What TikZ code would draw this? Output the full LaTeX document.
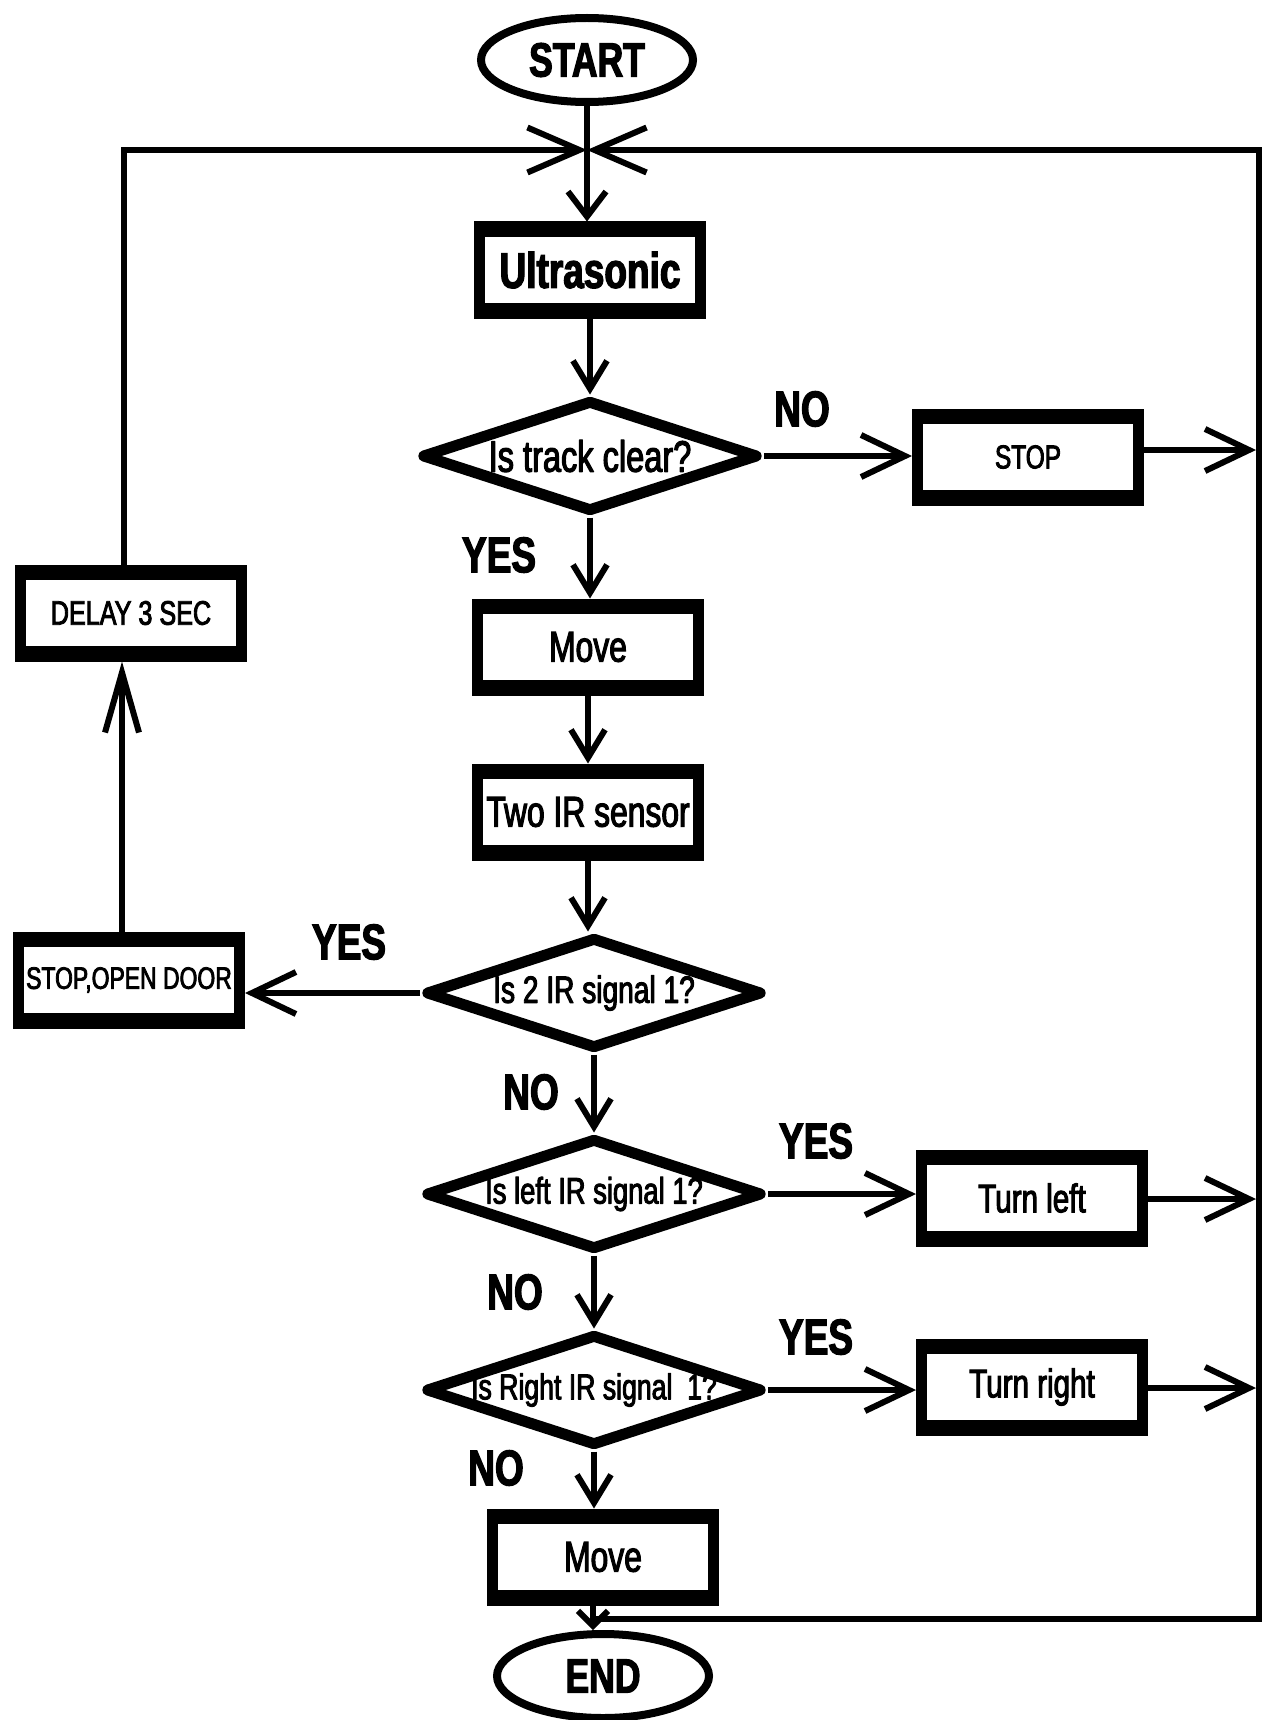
\documentclass[tikz,border=0pt]{standalone}
\usepackage{fontspec}
\setmainfont{Liberation Sans}[FakeStretch=0.74, FakeBold=2.5]
\usetikzlibrary{shapes.geometric,arrows.meta}
\begin{document}
\begin{tikzpicture}[x=1pt,y=-1pt,
  box/.style={draw, line width=11pt, rectangle, minimum width=221pt, minimum height=86pt, inner sep=0pt,
    path picture={\fill (path picture bounding box.north west) rectangle ([yshift=-10pt]path picture bounding box.north east);
                  \fill (path picture bounding box.south west) rectangle ([yshift=10pt]path picture bounding box.south east);}},
  dia/.style={draw, line width=11pt, diamond, minimum width=337pt, minimum height=112pt, inner sep=0pt, line join=round},
  term/.style={draw, line width=8pt, ellipse, minimum width=212pt, minimum height=84pt, inner sep=0pt, font=\bfseries\fontsize{48}{50}\selectfont},
  lab/.style={font=\bfseries\fontsize{50}{52}\selectfont, inner sep=0pt},
  conn/.style={line width=6pt, line join=miter},
  ha/.style={conn, -{Straight Barb[length=44pt,width=42pt,line width=6pt]}},
  va/.style={conn, -{Straight Barb[length=28pt,width=34pt,line width=6pt]}},
  ja/.style={conn, -{Straight Barb[length=52pt,width=45pt,line width=6pt]}},
  jd/.style={conn, -{Straight Barb[length=25pt,width=38pt,line width=6pt]}},
  ua/.style={conn, -{Straight Barb[length=60pt,width=34pt,line width=6pt]}},
  ea/.style={conn, -{Straight Barb[length=15pt,width=30pt,line width=6pt]}},
]
\fill[white] (0,0) rectangle (1262,1720);
\useasboundingbox (0,0) rectangle (1262,1720);

% nodes
\node[term] (start) at (587,60) {START};
\coordinate (J) at (587,150);
\node[box, font=\bfseries\fontsize{50}{52}\selectfont] (ultra) at (590,270) {Ultrasonic};
\node[dia, font=\fontsize{44}{46}\selectfont] (d1) at (590,456) {\makebox[0pt]{Is track clear?}};
\node[box, font=\fontsize{33}{35}\selectfont] (stop) at (1028,457) {STOP};
\node[box, font=\fontsize{43}{45}\selectfont] (move1) at (588,647) {Move};
\node[box, font=\fontsize{43}{45}\selectfont] (twoir) at (588,812) {Two IR sensor};
\node[dia, font=\fontsize{38}{40}\selectfont] (d2) at (594,993) {\makebox[0pt]{Is 2 IR signal 1?}};
\node[box, font=\fontsize{31}{33}\selectfont] (sod) at (129,980) {\makebox[0pt]{STOP,OPEN DOOR}};
\node[box, font=\fontsize{34}{36}\selectfont] (delay) at (131,613) {DELAY 3 SEC};
\node[dia, font=\fontsize{37}{39}\selectfont] (d3) at (594,1194) {\makebox[0pt]{Is left IR signal 1?}};
\node[box, font=\fontsize{40}{42}\selectfont] (tl) at (1032,1198) {Turn left};
\node[dia, font=\fontsize{36}{38}\selectfont] (d4) at (594,1390) {\makebox[0pt]{Is Right IR signal~~1?}};
\node[box, font=\fontsize{40}{42}\selectfont] (tr) at (1032,1387) {Turn right};
\node[box, font=\fontsize{43}{45}\selectfont] (move2) at (603,1557) {Move};
\node[term] (end) at (603,1676) {END};

% labels
\node[lab] (l1) at (802,409) {NO};
\node[lab] (l2) at (499,555) {YES};
\node[lab] (l3) at (349,942) {YES};
\node[lab] (l4) at (531,1092) {NO};
\node[lab] (l5) at (816,1141) {YES};
\node[lab] (l6) at (515,1292) {NO};
\node[lab] (l7) at (816,1337) {YES};
\node[lab] (l8) at (496,1468) {NO};

% rail coordinates
\coordinate (rtop) at (1259,150);
\coordinate (rbot) at (1259,1619);
\coordinate (lbot) at (593,1619);
\coordinate (r1) at (1256,450);
\coordinate (r2) at (1256,1199);
\coordinate (r3) at (1256,1388);

% connectors
\draw[conn] (start.south) -- (J);
\draw[jd] (J) -- (J |- ultra.north);
\draw[va] (ultra.south) -- (ultra.south |- d1.north);
\draw[ha] (d1.east) -- (d1.east -| stop.west);
\draw[ha] (stop.east |- r1) -- (r1);
\draw[va] (d1.south) -- (d1.south |- move1.north);
\draw[va] (move1.south) -- (move1.south |- twoir.north);
\draw[va] (twoir.south) -- (twoir.south |- d2.north);
\draw[ha] (d2.west) -- (d2.west -| sod.east);
\draw[ua] ([xshift=-7pt]sod.north) -- ([xshift=-7pt]sod.north |- delay.south);
\draw[ja] ([xshift=-7pt]delay.north) |- (J);
\draw[va] (d2.south) -- (d2.south |- d3.north);
\draw[ha] (d3.east) -- (d3.east -| tl.west);
\draw[ha] (tl.east |- r2) -- (r2);
\draw[va] (d3.south) -- (d3.south |- d4.north);
\draw[ha] (d4.east) -- (d4.east -| tr.west);
\draw[ha] (tr.east |- r3) -- (r3);
\draw[va] (d4.south) -- (d4.south |- move2.north);
\draw[ea] ([xshift=-10pt]move2.south) -- ([xshift=-10pt]end.north);
\draw[ja] (lbot) -- (rbot) -- (rtop) -- (J);
\end{tikzpicture}
\end{document}
